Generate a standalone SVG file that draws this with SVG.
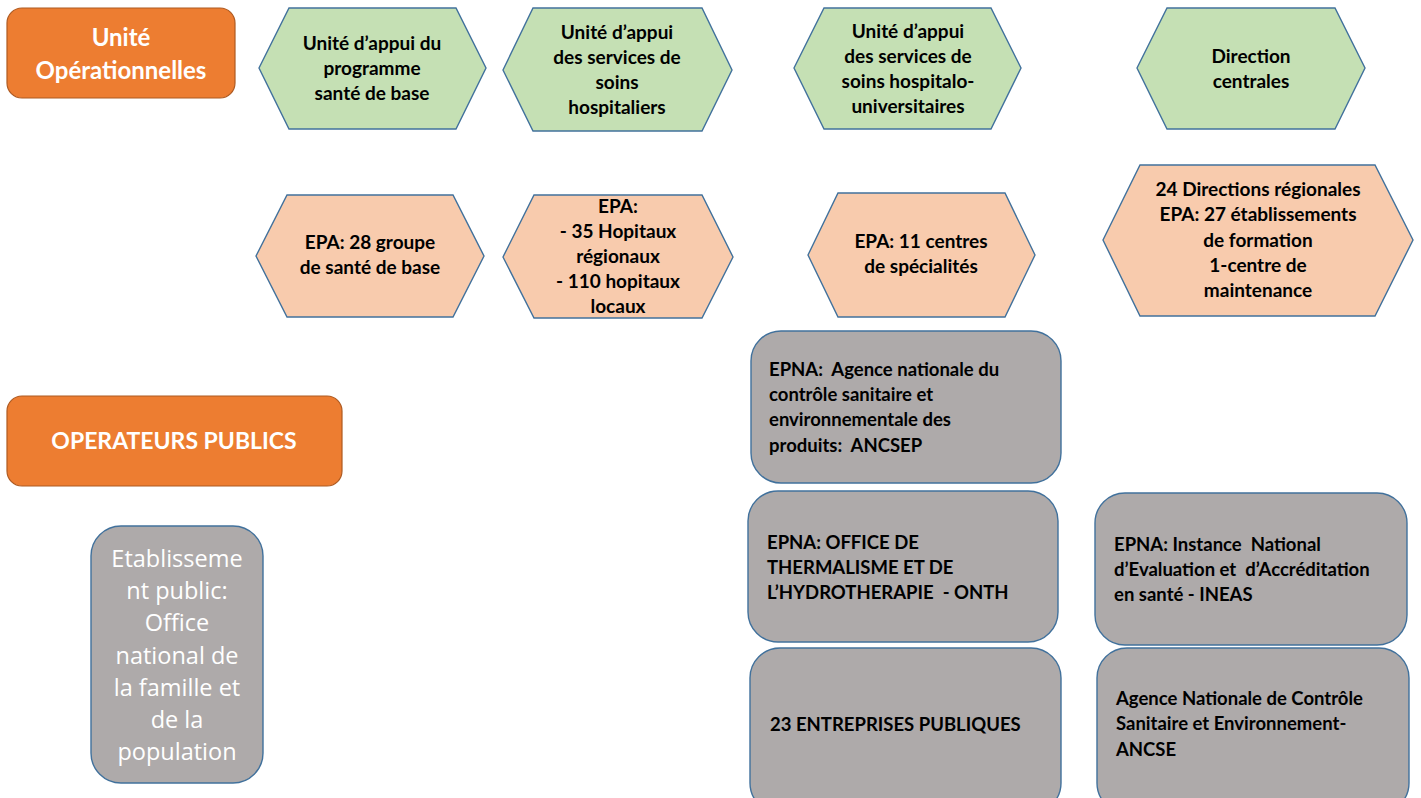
<svg xmlns="http://www.w3.org/2000/svg" width="1421" height="798" viewBox="0 0 1421 798">
<style>
.org{fill:#ED7D31;stroke:#AE5A21;stroke-width:1.2}
.grn{fill:#C5E0B4;stroke:#41719C;stroke-width:1.4}
.pch{fill:#F8CBAD;stroke:#41719C;stroke-width:1.4}
.gry{fill:#AEAAAA;stroke:#41719C;stroke-width:1.4}
text{font-family:Lato,"Liberation Sans",sans-serif;white-space:pre}
.wt{fill:#fff;font-weight:bold;font-size:24px;text-anchor:middle}
.bt{fill:#000;font-weight:bold;font-size:19px;text-anchor:middle}
.lt{fill:#000;font-weight:bold;font-size:18.5px}
.gt{fill:#fff;font-family:"Open Sans",Lato,sans-serif;font-size:23.5px;text-anchor:middle}
</style>
<rect width="1421" height="798" fill="#fff"/>
<g id="unite-op"><rect class="org" x="7" y="8" width="228" height="90" rx="15"/>
<text class="wt" x="121" y="46">Unité</text><text class="wt" x="121" y="79">Opérationnelles</text></g>
<g id="h1"><polygon class="grn" points="259,68 289,8 456,8 486,68 456,129 289,129"/>
<text class="bt" x="372" y="50">Unité d’appui du</text><text class="bt" x="372" y="75">programme</text><text class="bt" x="372" y="100">santé de base</text></g>
<g id="h2"><polygon class="grn" points="503,70 533,8 702,8 732,70 702,131 533,131"/>
<text class="bt" x="617" y="39">Unité d’appui</text><text class="bt" x="617" y="64">des services de</text><text class="bt" x="617" y="89">soins</text><text class="bt" x="617" y="114">hospitaliers</text></g>
<g id="h3"><polygon class="grn" points="794,68 824,8 991,8 1021,68 991,129 824,129"/>
<text class="bt" x="908" y="38">Unité d’appui</text><text class="bt" x="908" y="63">des services de</text><text class="bt" x="908" y="88">soins hospitalo-</text><text class="bt" x="908" y="113">universitaires</text></g>
<g id="h4"><polygon class="grn" points="1137,68 1167,8 1335,8 1365,68 1335,129 1167,129"/>
<text class="bt" x="1251" y="63">Direction</text><text class="bt" x="1251" y="88">centrales</text></g>
<g id="p1"><polygon class="pch" points="256,256 287,195 453,195 484,256 453,317 287,317"/>
<text class="bt" x="370" y="249">EPA: 28 groupe</text><text class="bt" x="370" y="274">de santé de base</text></g>
<g id="p2"><polygon class="pch" points="503,257 534,195 702,195 733,257 702,318 534,318"/>
<text class="bt" x="618" y="213">EPA:</text><text class="bt" x="618" y="238">- 35 Hopitaux</text><text class="bt" x="618" y="263">régionaux</text><text class="bt" x="618" y="288">- 110 hopitaux</text><text class="bt" x="618" y="313">locaux</text></g>
<g id="p3"><polygon class="pch" points="808,255 838,193 1005,193 1035,255 1005,317 838,317"/>
<text class="bt" x="921" y="248">EPA: 11 centres</text><text class="bt" x="921" y="273">de spécialités</text></g>
<g id="p4"><polygon class="pch" points="1103,240 1140,165 1375,165 1413,240 1375,316 1140,316"/>
<text class="bt" x="1258" y="196">24 Directions régionales</text><text class="bt" x="1258" y="221">EPA: 27 établissements</text><text class="bt" x="1258" y="247">de formation</text><text class="bt" x="1258" y="272">1-centre de</text><text class="bt" x="1258" y="297">maintenance</text></g>
<g id="operateurs"><rect class="org" x="7" y="396" width="335" height="90" rx="15"/>
<text class="wt" x="174" y="449" style="font-size:23px">OPERATEURS PUBLICS</text></g>
<g id="onfp"><rect class="gry" x="91" y="526" width="172" height="257" rx="30"/>
<text class="gt" x="177" y="567">Etablisseme</text><text class="gt" x="177" y="599">nt public:</text><text class="gt" x="177" y="631">Office</text><text class="gt" x="177" y="664">national de</text><text class="gt" x="177" y="696">la famille et</text><text class="gt" x="177" y="728">de la</text><text class="gt" x="177" y="760">population</text></g>
<g id="ancsep"><rect class="gry" x="751" y="331" width="310" height="152" rx="30"/>
<text class="lt" x="769" y="376">EPNA:  Agence nationale du</text><text class="lt" x="769" y="401">contrôle sanitaire et</text><text class="lt" x="769" y="426">environnementale des</text><text class="lt" x="769" y="452">produits:  ANCSEP</text></g>
<g id="onth"><rect class="gry" x="748" y="491" width="310" height="151" rx="30"/>
<text class="lt" x="767" y="549">EPNA: OFFICE DE</text><text class="lt" x="767" y="574">THERMALISME ET DE</text><text class="lt" x="767" y="599">L’HYDROTHERAPIE  - ONTH</text></g>
<g id="ineas"><rect class="gry" x="1095" y="493" width="312" height="152" rx="30"/>
<text class="lt" x="1114" y="551">EPNA: Instance  National</text><text class="lt" x="1114" y="576">d’Evaluation et  d’Accréditation</text><text class="lt" x="1114" y="601">en santé - INEAS</text></g>
<g id="entreprises"><rect class="gry" x="750" y="648" width="311" height="165" rx="30"/>
<text class="lt" x="770" y="731">23 ENTREPRISES PUBLIQUES</text></g>
<g id="ancse"><rect class="gry" x="1097" y="648" width="312" height="165" rx="30"/>
<text class="lt" x="1116" y="705">Agence Nationale de Contrôle</text><text class="lt" x="1116" y="730">Sanitaire et Environnement-</text><text class="lt" x="1116" y="756">ANCSE</text></g>
<g id="connectors"></g>
</svg>
